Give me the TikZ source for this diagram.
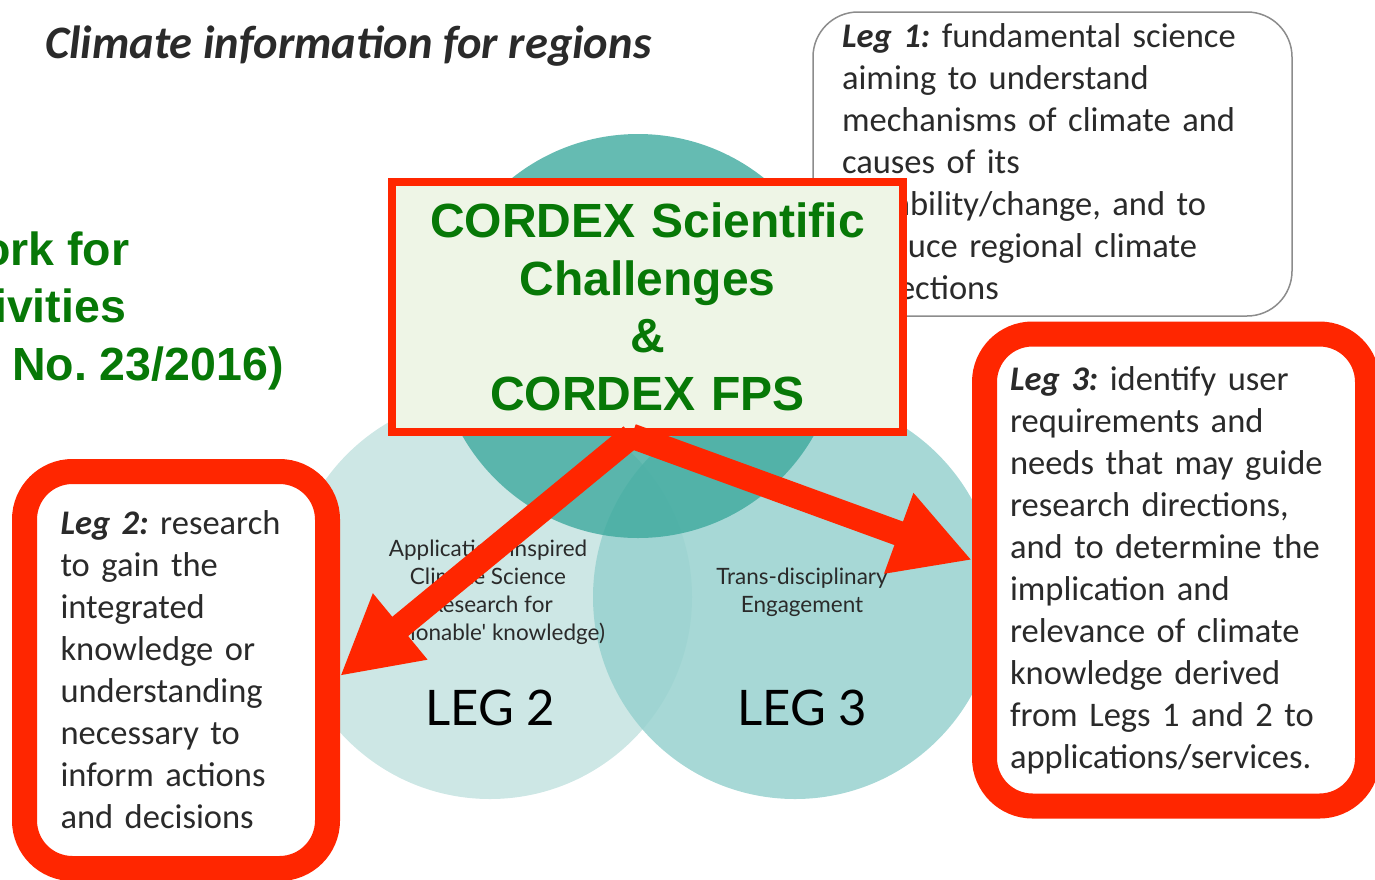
\documentclass[tikz,border=0pt]{standalone}
\usepackage{fontspec}
\setmainfont{Carlito}
\newfontfamily\arialfont{Liberation Sans}
\newfontfamily\legfont{Lato}
\usepackage{tikz}
\usetikzlibrary{arrows.meta,positioning}
\usepackage{xcolor}
\definecolor{AlertRed}{HTML}{FF2600}
\definecolor{ReportGreen}{HTML}{077807}
\definecolor{PaleGreen}{HTML}{EEF5E6}
\definecolor{TextGray}{HTML}{2A2A2A}
\definecolor{FrameGray}{HTML}{8C8C8C}
\definecolor{LegOneTeal}{HTML}{3AA89C}
\definecolor{LegTwoTeal}{HTML}{CDE7E5}
\definecolor{LegThreeTeal}{HTML}{98D2CF}
\frenchspacing

\begin{document}
\begin{tikzpicture}[x=1pt, y=-1pt,
    legbox/.style={align=left, text=TextGray, font=\fontsize{34.5}{42}\selectfont, inner ysep=0pt},
    redbox/.style={legbox, draw=AlertRed, line width=25pt, fill=white, rounded corners=48pt},
    green/.style={text=ReportGreen, font=\arialfont\bfseries\fontsize{48}{57.5}\selectfont, inner sep=0pt},
    circtext/.style={align=center, text=TextGray, font=\legfont\fontsize{22.5}{28}\selectfont},
    legname/.style={text=black, font=\legfont\fontsize{49}{50}\selectfont},
    arr/.style={-{Triangle[length=78pt, width=80pt]}, draw=AlertRed, line width=25pt}
  ]
    \useasboundingbox (0,0) rectangle (1375,879);

    % Heading and cut-off report reference
    \node[anchor=base west, inner sep=0pt, text=TextGray, font=\bfseries\itshape\fontsize{46.5}{50}\selectfont] (title) at (45, 58) {Climate information for regions};
    \node[green, font=\arialfont\bfseries\fontsize{46.5}{56}\selectfont, anchor=base west] (rep1) at (-18, 265) {ork for};
    \node[green, font=\arialfont\bfseries\fontsize{46.5}{56}\selectfont, anchor=base west] (rep2) at (-6, 322) {ivities};
    \node[green, font=\arialfont\bfseries\fontsize{46.5}{56}\selectfont, anchor=base west] (rep3) at (12, 380) {No. 23/2016)};

    % The three legs
    \fill[LegTwoTeal] (490, 597) circle (202);
    \fill[LegThreeTeal, fill opacity=0.86] (795, 597) circle (202);
    \fill[LegOneTeal, fill opacity=0.78] (638, 336) circle (202);

    \node[circtext] (l2text) at (488, 592) {Application-inspired\\Climate Science\\(Research for\\`actionable' knowledge)};
    \node[legname] (l2name) at (490, 708) {LEG 2};
    \node[circtext] (l3text) at (802, 592) {Trans-disciplinary\\Engagement};
    \node[legname] (l3name) at (802, 708) {LEG 3};

    % Leg descriptions
    \node[legbox, draw=FrameGray, line width=1.5pt, fill=white, rounded corners=45pt,
          text width=421pt, inner xsep=29pt, minimum height=304pt] (leg1) at (1052.5, 164)
      {\textbf{\textit{Leg 1:}} fundamental science\\aiming to understand\\mechanisms of climate and\\causes of its\\variability/change, and to\\produce regional climate\\projections};
    \node[redbox, text width=231pt, inner xsep=36pt, minimum height=397pt] (leg2) at (176, 670)
      {\textbf{\textit{Leg 2:}} research\\to gain the\\integrated\\knowledge or\\understanding\\necessary to\\inform actions\\and decisions};
    \node[redbox, text width=332pt, inner xsep=25.5pt, minimum height=472pt] (leg3) at (1176, 570)
      {\textbf{\textit{Leg 3:}} identify user\\requirements and\\needs that may guide\\research directions,\\and to determine the\\implication and\\relevance of climate\\knowledge derived\\from Legs 1 and 2 to\\applications/services.};

    % CORDEX box and its links
    \node[green, draw=AlertRed, line width=8pt, fill=PaleGreen, align=center, text width=511pt, minimum height=250pt] (cordex) at (647.5, 307)
      {CORDEX Scientific\\Challenges\\\&\\CORDEX FPS};

    \draw[arr] ([xshift=-16pt]cordex.south) -- ([yshift=-6pt]leg2.east);
    \draw[arr] ([xshift=-16pt]cordex.south) -- ([yshift=10pt]leg3.west);
  \end{tikzpicture}
\end{document}
